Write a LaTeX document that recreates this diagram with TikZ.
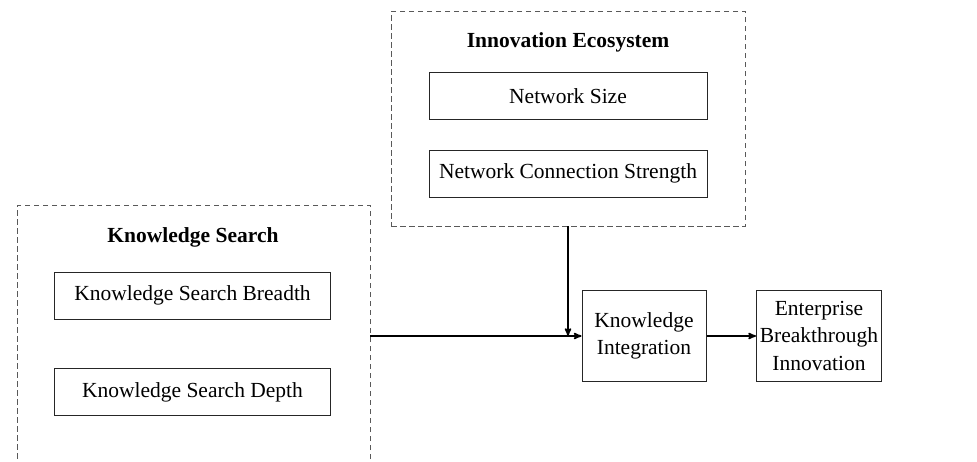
\documentclass[tikz,border=0pt]{standalone}
\usepackage{fontspec}
\setmainfont{Liberation Serif}
\usetikzlibrary{arrows,positioning}
\tikzset{
        >=stealth',
        group/.style = {draw=black!65, dash pattern=on 5.5pt off 3.5pt, line width=0.9pt, inner sep=0pt},
        grouptitle/.style = {execute at begin node=\bfseries},
        factor/.style = {draw=black!85, line width=1pt, minimum width=276pt, minimum height=47pt, inner sep=0pt},
        stage/.style = {draw=black!85, line width=1pt, minimum width=125pt, minimum height=91pt, align=center, inner sep=0pt},
        link/.style = {->, line width=1.6pt}
}

\begin{document}
\begin{tikzpicture}[x=1pt, y=-1pt, font=\fontsize{21.5}{27.5}\selectfont]
        \useasboundingbox (0,0) rectangle (977,461);

        % Knowledge search group
        \node[group, minimum width=353pt, minimum height=270pt] (search) at (193.5,340) {};
        \node[grouptitle] (searchtitle) at (193,237) {Knowledge Search};
        \node[factor] (breadth) at (192.5,295.5) {Knowledge Search Breadth};
        \node[factor] (depth) at (192.5,392) {Knowledge Search Depth};

        % Innovation ecosystem group
        \node[group, minimum width=354pt, minimum height=215pt] (eco) at (568,118.5) {};
        \node[grouptitle] (ecotitle) at (568,42) {Innovation Ecosystem};
        \node[factor, minimum width=278pt] (size) at (568,96) {Network Size};
        \node[factor, minimum width=278pt] (strength) at (568,173.5) {Network Connection Strength};

        % Mediator and outcome
        \node[stage, minimum width=124pt] (integ) at (644,336) {Knowledge\\Integration};
        \node[stage] (outcome) at (819,335.5) {Enterprise\\Breakthrough\\Innovation};

        % Arrows
        \draw[link] (search.east |- integ.west) -- (integ.west);
        \draw[link] (eco.south) -- (eco.south |- integ.west);
        \draw[link] (integ.east) -- (outcome.west |- integ.east);

\end{tikzpicture}
\end{document}
